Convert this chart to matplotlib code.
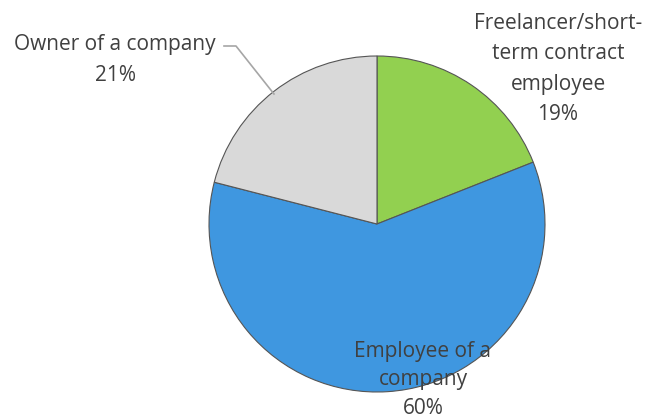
import matplotlib.pyplot as plt

labels = ["Freelancer/short-\nterm contract\nemployee", "Employee of a\ncompany", "Owner of a company"]
shares = [19, 60, 21]
colors = ["#92d050", "#3f97e0", "#d9d9d9"]

plt.rcParams['font.family'] = ['Open Sans', 'DejaVu Sans']

W, H = 647, 420
fig = plt.figure(figsize=(W / 100, H / 100), dpi=100)
ax = fig.add_axes([0, 0, 1, 1])

ax.pie(shares, colors=colors, startangle=90, counterclock=False,
       center=(377, H - 224), radius=168, frame=True,
       wedgeprops=dict(edgecolor='#555555', linewidth=0.8))
ax.set_xlim(0, W)
ax.set_ylim(0, H)
ax.set_aspect('equal')
ax.axis('off')

txt = '#404040'
fs = 15
# label positions in pixel coords (x, y from top), line spacing
pos = [(558, 69, 1.6), (423, 380, 1.45), (115, 60, 1.6)]
for lab, s, (px, py, ls) in zip(labels, shares, pos):
    ax.text(px, H - py, lab + "\n" + str(s) + "%", ha='center', va='center',
            fontsize=fs, color=txt, linespacing=ls)

# leader line for the owner label
ax.plot([224, 236, 274], [H - 46, H - 46, H - 94], color='#a6a6a6', lw=1.2)

fig.savefig("out.png", dpi=100)
